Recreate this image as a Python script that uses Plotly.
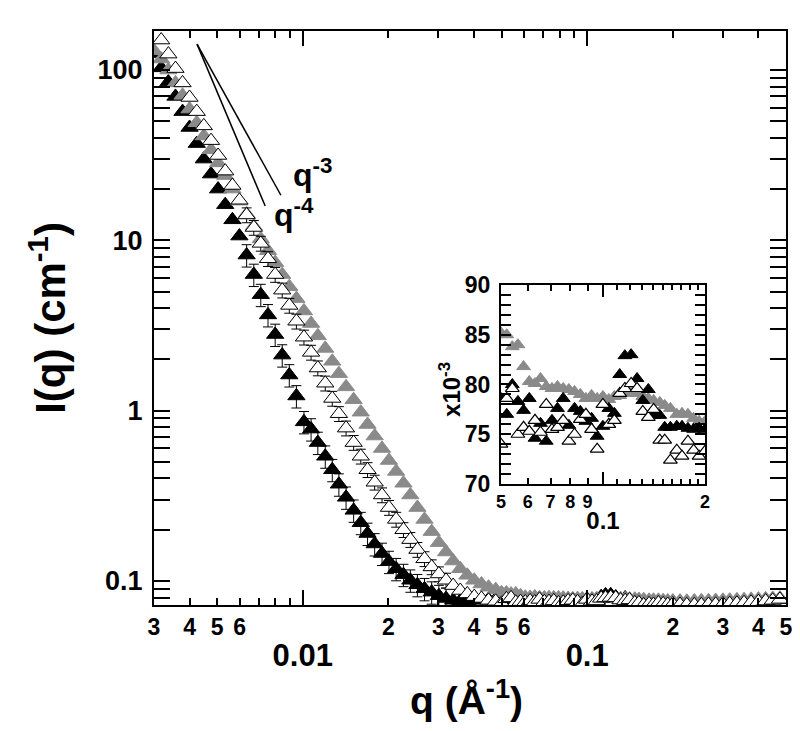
import math
import plotly.graph_objects as go

# ---------------- data ----------------
q_low = [0.00300, 0.00318, 0.00337, 0.00357, 0.00378, 0.00400, 0.00424, 0.00449, 0.00476, 0.00504,
         0.00534, 0.00566, 0.00599, 0.00635, 0.00673, 0.00712, 0.00755, 0.00800, 0.00847, 0.00897,
         0.00950, 0.0101, 0.0107, 0.0113, 0.0120, 0.0127, 0.0134, 0.0142, 0.0151, 0.0160,
         0.0169, 0.0179, 0.0190, 0.0201, 0.0213, 0.0226, 0.0239, 0.0253, 0.0268, 0.0284,
         0.0301, 0.0319, 0.0338, 0.0358, 0.0379, 0.0401, 0.0425, 0.0450, 0.0477]
q_mid = [0.0500, 0.0520, 0.0540, 0.0561, 0.0583, 0.0606, 0.0630, 0.0654, 0.0680, 0.0707,
         0.0734, 0.0763, 0.0793, 0.0824, 0.0857, 0.0890, 0.0925, 0.0961, 0.0999, 0.104,
         0.108, 0.112, 0.116, 0.121, 0.126, 0.131, 0.136, 0.141, 0.147, 0.152,
         0.158, 0.165, 0.171, 0.178, 0.185, 0.192, 0.200]
q_high = [0.212, 0.224, 0.238, 0.252, 0.267, 0.283, 0.300, 0.317, 0.336, 0.356,
          0.377, 0.400, 0.424, 0.449, 0.476, 0.500]

# I(q) in cm^-1 at low q
black_low = [125, 103, 85, 70, 57, 46, 37, 30, 24.5, 20,
             16.2, 13.2, 10.6, 8.2, 6.3, 4.8, 3.65, 2.8, 2.12, 1.62,
             1.22, 0.86, 0.78, 0.65, 0.54, 0.45, 0.37, 0.31, 0.26, 0.22,
             0.19, 0.165, 0.145, 0.13, 0.118, 0.109, 0.101, 0.095, 0.090, 0.086,
             0.082, 0.079, 0.077, 0.0765, 0.0765, 0.0775, 0.077, 0.078, 0.0785]
gray_low = [130, 116, 100, 84, 71, 59, 49, 41, 34, 28.5,
            24, 20, 17, 14.3, 12.1, 10.2, 8.7, 7.4, 6.3, 5.35,
            4.55, 3.85, 3.25, 2.75, 2.32, 1.95, 1.65, 1.38, 1.16, 0.98,
            0.83, 0.71, 0.60, 0.51, 0.44, 0.375, 0.32, 0.27, 0.23, 0.195,
            0.168, 0.148, 0.131, 0.118, 0.108, 0.101, 0.096, 0.092, 0.089]
open_low = [181, 150, 124, 102, 84, 69, 57, 47, 38.5, 31.5,
            25.5, 21, 17.2, 14.1, 11.9, 9.6, 7.8, 6.3, 5.1, 4.15,
            3.35, 2.7, 2.2, 1.78, 1.45, 1.18, 0.96, 0.79, 0.65, 0.54,
            0.45, 0.38, 0.32, 0.27, 0.23, 0.20, 0.175, 0.153, 0.135, 0.121,
            0.110, 0.101, 0.094, 0.088, 0.084, 0.081, 0.079, 0.077, 0.076]

# I(q) in units of 1e-3 cm^-1 (inset range and beyond)
black_mid_e3 = [78.6, 77.0, 80.0, 78.3, 77.4, 78.6, 74.6, 76.1, 74.3, 76.4,
                77.6, 78.6, 75.9, 77.6, 77.3, 76.3, 76.6, 74.8, 75.8, 77.6,
                77.1, 81.0, 82.9, 83.0, 80.6, 78.4, 79.5, 76.9, 76.9, 75.7,
                75.7, 75.8, 75.8, 75.6, 75.5, 75.6, 75.5]
gray_mid_e3 = [85.2, 85.0, 83.8, 84.0, 81.8, 80.3, 80.1, 80.6, 79.8, 79.6,
               79.8, 79.6, 79.5, 79.3, 79.0, 78.6, 78.9, 78.6, 78.8, 78.5,
               78.8, 78.9, 79.1, 79.4, 79.1, 78.8, 78.6, 78.4, 78.2, 77.9,
               77.6, 77.0, 77.1, 77.0, 76.6, 76.3, 76.3]
open_mid_e3 = [74.0, 78.6, 79.6, 75.0, 75.7, 75.3, 76.4, 75.2, 78.0, 75.5,
               75.7, 76.4, 74.3, 75.0, 76.5, 77.0, 75.5, 73.5, 78.0, 76.0,
               76.4, 79.1, 79.6, 80.1, 79.6, 77.3, 76.7, 77.5, 74.4, 74.4,
               72.4, 73.4, 72.8, 74.3, 73.4, 72.8, 73.3]
black_high_e3 = [75.4, 75.3, 75.2, 75.2, 75.3, 75.4, 75.5, 75.6, 75.8, 76.0,
                 76.2, 76.5, 76.8, 77.2, 77.6, 78.0]
gray_high_e3 = [76.2, 76.0, 76.3, 76.5, 76.6, 76.8, 77.0, 77.2, 77.5, 77.7,
                78.0, 78.3, 78.6, 79.0, 79.4, 79.8]
open_high_e3 = [72.8, 72.5, 72.4, 72.5, 72.8, 73.0, 73.3, 73.6, 74.0, 74.5,
                75.0, 75.6, 76.3, 77.0, 78.0, 79.5]

# power-law guide lines
guide3_q = [0.00425, 0.00838]
guide3_I = [142, 18.4]
guide4_q = [0.00425, 0.00738]
guide4_I = [142, 15.9]

x_digit_vals = [0.003, 0.004, 0.005, 0.006, 0.02, 0.03, 0.04, 0.05, 0.06, 0.2, 0.3, 0.4, 0.5]
x_digit_text = ["3", "4", "5", "6", "2", "3", "4", "5", "6", "2", "3", "4", "5"]
x_decade_vals = [0.01, 0.1]
x_decade_text = ["0.01", "0.1"]
y_major_vals = [0.1, 1, 10, 100]
y_major_text = ["0.1", "1", "10", "100"]

inset_y_vals = [0.070, 0.075, 0.080, 0.085, 0.090]
inset_y_text = ["70", "75", "80", "85", "90"]
inset_x_vals = [0.05, 0.06, 0.07, 0.08, 0.09, 0.2]
inset_x_text = ["5", "6", "7", "8", "9", "2"]

# ---------------- assemble ----------------
q = q_low + q_mid + q_high
black = black_low + [v / 1000 for v in black_mid_e3 + black_high_e3]
gray = gray_low + [v / 1000 for v in gray_mid_e3 + gray_high_e3]
openI = open_low + [v / 1000 for v in open_mid_e3 + open_high_e3]

black_rel_err = 0.15
open_rel_err = 0.10
err_black = [black_rel_err * v if 0.0062 <= qq <= 0.032 else 0 for qq, v in zip(q, black)]
err_open = [open_rel_err * v if 0.0062 <= qq <= 0.032 else 0 for qq, v in zip(q, openI)]

sel = [i for i, qq in enumerate(q) if 0.049 <= qq <= 0.201]
qi = [q[i] for i in sel]

FONT = "Liberation Sans, Arial, sans-serif"
GRAY = "#8a8a8a"
MS = 15

fig = go.Figure()

fig.add_trace(go.Scatter(x=q, y=black, mode="markers", xaxis="x", yaxis="y",
                         marker=dict(symbol="triangle-up", size=MS, color="black",
                                     line=dict(color="black", width=1)),
                         error_y=dict(type="data", array=err_black, color="black",
                                      thickness=1, width=5),
                         showlegend=False))
fig.add_trace(go.Scatter(x=q, y=gray, mode="markers", xaxis="x", yaxis="y",
                         marker=dict(symbol="triangle-up", size=MS, color=GRAY,
                                     line=dict(color=GRAY, width=1)),
                         showlegend=False))
fig.add_trace(go.Scatter(x=q, y=openI, mode="markers", xaxis="x", yaxis="y",
                         marker=dict(symbol="triangle-up", size=MS, color="white",
                                     line=dict(color="black", width=1)),
                         error_y=dict(type="data", array=err_open, color="black",
                                      thickness=1, width=5),
                         showlegend=False))
# the first open point pokes above the top frame in the reference
fig.add_trace(go.Scatter(x=q[:1], y=openI[:1], mode="markers", xaxis="x", yaxis="y",
                         cliponaxis=False,
                         marker=dict(symbol="triangle-up", size=MS, color="white",
                                     line=dict(color="black", width=1)),
                         showlegend=False))
# guide lines (on overlay axis x3 which carries the decade ticks)
fig.add_trace(go.Scatter(x=guide3_q, y=guide3_I, mode="lines", xaxis="x3", yaxis="y",
                         line=dict(color="black", width=1.5), showlegend=False))
fig.add_trace(go.Scatter(x=guide4_q, y=guide4_I, mode="lines", xaxis="x3", yaxis="y",
                         line=dict(color="black", width=1.5), showlegend=False))

# inset
IMS = 12
fig.add_trace(go.Scatter(x=qi, y=[gray[i] for i in sel], mode="markers", xaxis="x2", yaxis="y2",
                         marker=dict(symbol="triangle-up", size=IMS, color=GRAY,
                                     line=dict(color=GRAY, width=1)), showlegend=False))
fig.add_trace(go.Scatter(x=qi, y=[black[i] for i in sel], mode="markers", xaxis="x2", yaxis="y2",
                         marker=dict(symbol="triangle-up", size=IMS, color="black",
                                     line=dict(color="black", width=1)), showlegend=False))
fig.add_trace(go.Scatter(x=qi, y=[openI[i] for i in sel], mode="markers", xaxis="x4", yaxis="y2",
                         marker=dict(symbol="triangle-up", size=IMS, color="white",
                                     line=dict(color="black", width=1.2)), showlegend=False))

def fnt(size):
    return dict(family=FONT, size=size, color="black", weight="bold")

axis_common = dict(showgrid=False, zeroline=False, showline=True, linecolor="black",
                   linewidth=2, ticks="inside", tickcolor="black", tickwidth=1.5,
                   mirror="allticks", automargin=False)

main_xrange = [math.log10(0.003), math.log10(0.5)]
main_yrange = [math.log10(0.0723), math.log10(169.5)]
inset_xrange = [math.log10(0.05), math.log10(0.2)]

x_minor = [0.007, 0.008, 0.009, 0.07, 0.08, 0.09]
y_minor = [m * d for d in [0.01, 0.1, 1, 10, 100] for m in range(2, 10)]
inset_x_minor = [0.11, 0.12, 0.13, 0.14, 0.15, 0.16, 0.17, 0.18, 0.19]
inset_y_minor = [0.070 + 0.001 * k for k in range(21)]

fig.update_layout(
    width=800, height=731,
    margin=dict(l=146, r=22, t=23, b=134, autoexpand=False),
    paper_bgcolor="white", plot_bgcolor="white",
    xaxis=dict(type="log", range=main_xrange, tickvals=x_digit_vals, ticktext=x_digit_text,
               ticklen=7, tickfont=fnt(23),
               minor=dict(tickvals=x_minor, ticks="inside", ticklen=7, tickcolor="black",
                          tickwidth=1.5, showgrid=False),
               anchor="y", **axis_common),
    xaxis3=dict(type="log", range=main_xrange, overlaying="x", anchor="y", side="bottom",
                tickvals=x_decade_vals, ticktext=x_decade_text, ticklen=15,
                tickfont=fnt(31), ticklabelstandoff=22, **axis_common),
    yaxis=dict(type="log", range=main_yrange, tickvals=y_major_vals, ticktext=y_major_text,
               ticklen=16, tickfont=fnt(27), ticklabelstandoff=4,
               minor=dict(tickvals=y_minor, ticks="inside", ticklen=8, tickcolor="black",
                          tickwidth=1.5, showgrid=False),
               anchor="x", **axis_common),
    xaxis2=dict(type="log", range=inset_xrange, domain=[0.549, 0.872], anchor="y2",
                tickvals=inset_x_vals, ticktext=inset_x_text, ticklen=6, tickfont=fnt(18),
                minor=dict(tickvals=inset_x_minor, ticks="inside", ticklen=5,
                           tickcolor="black", tickwidth=1.5, showgrid=False),
                **axis_common),
    xaxis4=dict(type="log", range=inset_xrange, overlaying="x2", anchor="y2", side="bottom",
                tickvals=[0.1], ticktext=["0.1"], ticklen=12, tickfont=fnt(24),
                ticklabelstandoff=14, **axis_common),
    yaxis2=dict(range=[0.070, 0.090], domain=[0.2108, 0.5575], anchor="x2",
                tickvals=inset_y_vals, ticktext=inset_y_text, ticklen=10, tickfont=fnt(23),
                ticklabelstandoff=4,
                minor=dict(tickvals=inset_y_minor, ticks="inside", ticklen=5,
                           tickcolor="black", tickwidth=1.5, showgrid=False),
                **axis_common),
)

fig.add_annotation(text="q (Å<sup>-1</sup>)", xref="paper", yref="paper", x=0.494, y=-0.162,
                   xanchor="center", yanchor="middle", showarrow=False, font=fnt(39))
fig.add_annotation(text="I(q) (cm<sup>-1</sup>)", xref="paper", yref="paper", x=-0.168, y=0.50,
                   xanchor="center", yanchor="middle", textangle=-90, showarrow=False, font=fnt(42))
fig.add_annotation(text="q<sup>-3</sup>", xref="x", yref="y", x=math.log10(0.00909),
                   y=math.log10(24.8), xanchor="left", yanchor="middle", showarrow=False, font=fnt(32))
fig.add_annotation(text="q<sup>-4</sup>", xref="x", yref="y", x=math.log10(0.00779),
                   y=math.log10(14.5), xanchor="left", yanchor="middle", showarrow=False, font=fnt(32))
fig.add_annotation(text="x10<sup>-3</sup>", xref="paper", yref="paper", x=0.468, y=0.376,
                   xanchor="center", yanchor="middle", textangle=-90, showarrow=False, font=fnt(24))

fig.write_html("out.html")
